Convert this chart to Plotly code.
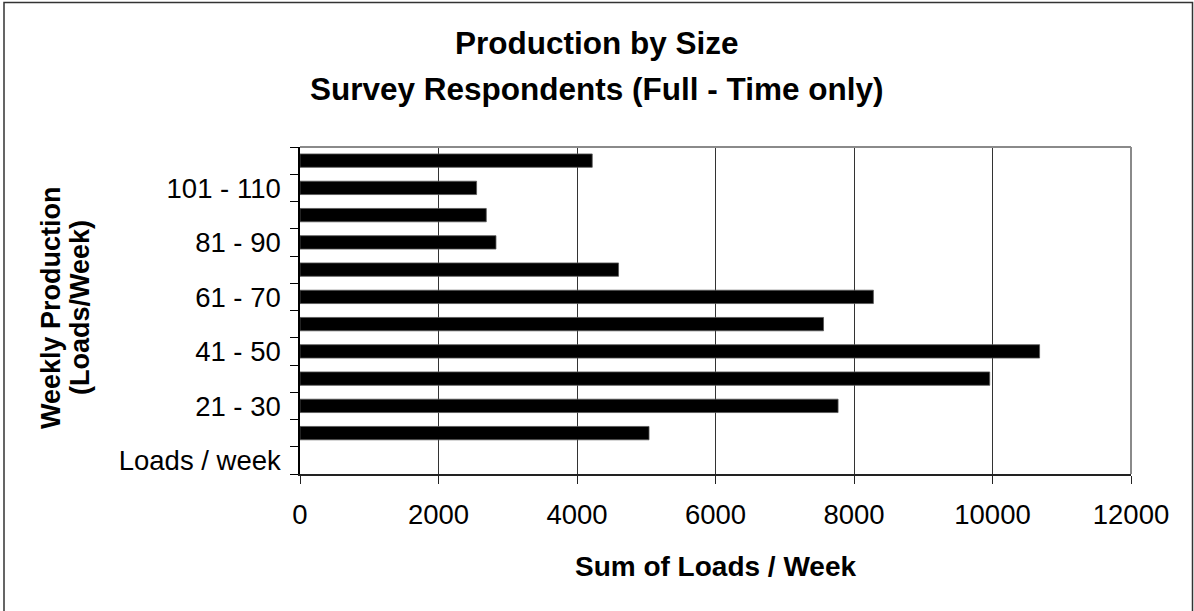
import plotly.graph_objects as go

# Data (bottom to top)
categories = ["Loads / week", "11 - 20", "21 - 30", "31 - 40", "41 - 50", "51 - 60",
              "61 - 70", "71 - 80", "81 - 90", "91 - 100", "101 - 110", "111 - 120"]
loads_per_week = [None, 5040, 7770, 9960, 10680, 7560, 8280, 4600, 2830, 2690, 2550, 4220]
shown_labels = ["Loads / week", "", "21 - 30", "", "41 - 50", "", "61 - 70", "",
                "81 - 90", "", "101 - 110", ""]
x_ticks = [0, 2000, 4000, 6000, 8000, 10000, 12000]

FONT = "Liberation Sans, Arial, sans-serif"

fig = go.Figure()
fig.add_trace(go.Bar(
    y=categories, x=loads_per_week, orientation="h",
    marker=dict(color="#000000", line=dict(color="#555555", width=0.8)),
    showlegend=False,
))

W, H = 1194, 611
L, R, T, B = 300, 63, 147, 137
pw, ph = W - L - R, H - T - B

def px(x):
    return (x - L) / pw

def py(y):
    return (H - B - y) / ph

fig.update_layout(
    width=W, height=H,
    margin=dict(l=L, r=R, t=T, b=B),
    paper_bgcolor="white", plot_bgcolor="white",
    bargap=0.51,
    font=dict(family=FONT, color="black", size=27.5),
    xaxis=dict(
        range=[0, 12000], tickvals=x_ticks, ticktext=[str(v) for v in x_ticks],
        showgrid=True, gridcolor="#333333", gridwidth=1,
        showline=True, linecolor="#222222", linewidth=2,
        ticks="outside", ticklen=8, tickcolor="#222222", tickwidth=1,
        tickfont=dict(size=27.5), ticklabelstandoff=7, zeroline=False,
        title=dict(text="<b>Sum of Loads / Week</b>", font=dict(size=28), standoff=27),
    ),
    yaxis=dict(
        type="category", range=[-0.5, 11.5],
        tickvals=categories, ticktext=shown_labels,
        tickson="boundaries",
        showgrid=False,
        showline=True, linecolor="#000000", linewidth=1.5,
        ticks="outside", ticklen=8, tickcolor="#000000", tickwidth=1,
        tickfont=dict(size=27.5), ticklabelstandoff=12,
    ),
    annotations=[
        dict(text="<b>Production by Size</b>", xref="paper", yref="paper",
             x=px(597), y=py(42.5), xanchor="center", yanchor="middle",
             showarrow=False, font=dict(size=31.5)),
        dict(text="<b>Survey Respondents (Full - Time only)</b>", xref="paper", yref="paper",
             x=px(597), y=py(88.5), xanchor="center", yanchor="middle",
             showarrow=False, font=dict(size=31.5)),
        dict(text="<b>Weekly Production</b>", xref="paper", yref="paper",
             x=px(51), y=py(308), xanchor="center", yanchor="middle", textangle=-90,
             showarrow=False, font=dict(size=27)),
        dict(text="<b>(Loads/Week)</b>", xref="paper", yref="paper",
             x=px(80), y=py(308), xanchor="center", yanchor="middle", textangle=-90,
             showarrow=False, font=dict(size=27)),
    ],
    shapes=[
        # plot area border (top and right)
        dict(type="line", xref="paper", yref="paper", x0=0, x1=1, y0=1, y1=1,
             line=dict(color="#8a8a8a", width=2)),
        dict(type="line", xref="paper", yref="paper", x0=1, x1=1, y0=0, y1=1,
             line=dict(color="#8a8a8a", width=2)),
        # chart border
        dict(type="rect", xref="paper", yref="paper",
             x0=px(4), x1=px(1192.5), y0=py(2.5), y1=py(620),
             line=dict(color="#333333", width=1.5), fillcolor="rgba(0,0,0,0)"),
    ],
)

fig.write_html("out.html", config={"displayModeBar": False},
               post_script="document.body.style.margin='0';")
